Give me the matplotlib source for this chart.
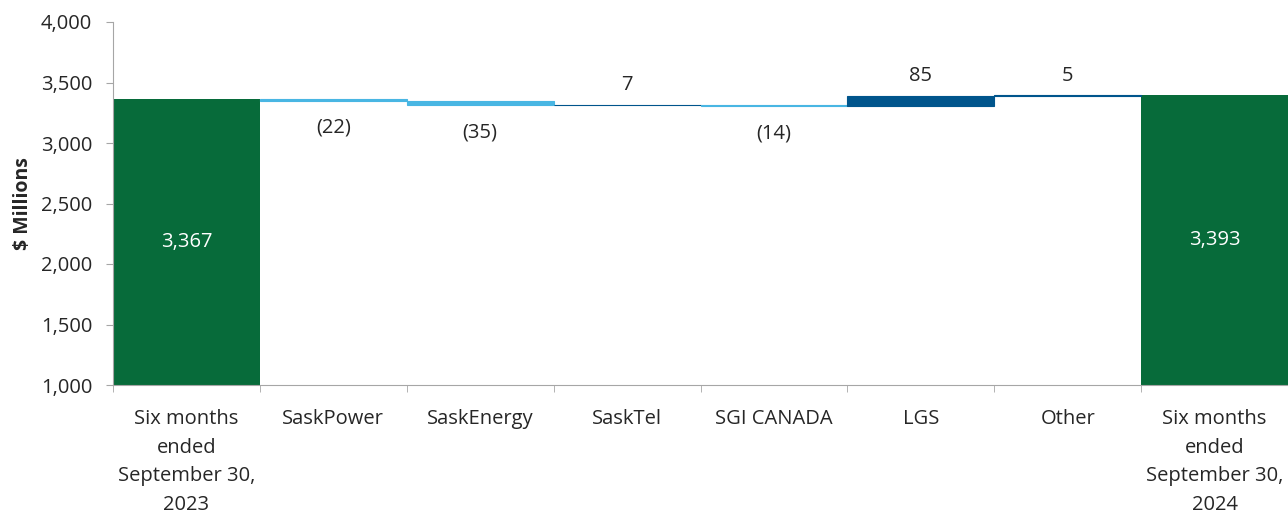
import matplotlib
matplotlib.use('Agg')
import matplotlib.pyplot as plt
import numpy as np

plt.rcParams['font.family'] = ['Open Sans', 'DejaVu Sans']

# Données
categories = ['Six months\nended\nSeptember 30,\n2023', 'SaskPower', 'SaskEnergy', 'SaskTel',
              'SGI CANADA', 'LGS', 'Other', 'Six months\nended\nSeptember 30,\n2024']
start_total = 3367
changes = [-22, -35, 7, -14, 85, 5]
end_total = 3393
change_labels = ['(22)', '(35)', '7', '(14)', '85', '5']

green = '#076B3A'
light_blue = '#49B6E3'
dark_blue = '#00558C'
text_col = '#262626'
fs = 14.5

fig, ax = plt.subplots(figsize=(12.88, 5.14), dpi=100)
fig.subplots_adjust(left=113/1288, right=1.0, top=1-22/514, bottom=1-385/514)

ymin = 1000
x = np.arange(len(categories))

# barres totales
ax.bar(x[0], start_total - ymin, bottom=ymin, width=1.0, color=green)
ax.bar(x[-1], end_total - ymin, bottom=ymin, width=1.0, color=green)
ax.text(x[0], (start_total + ymin) / 2, f'{start_total:,}', color='white',
        ha='center', va='center', fontsize=fs)
ax.text(x[-1], (end_total + ymin) / 2, f'{end_total:,}', color='white',
        ha='center', va='center', fontsize=fs)

# barres de variation
level = start_total
for i, (c, lab) in enumerate(zip(changes, change_labels)):
    xi = x[i + 1]
    col = dark_blue if c > 0 else light_blue
    bottom = level if c > 0 else level + c
    ax.bar(xi, abs(c), bottom=bottom, width=1.0, color=col, edgecolor=col, linewidth=0.8)
    if c > 0:
        ax.annotate(lab, (xi, level + c), xytext=(0, 7), textcoords='offset points',
                    ha='center', va='bottom', fontsize=fs, color=text_col)
    else:
        ax.annotate(lab, (xi, level + c), xytext=(0, -12), textcoords='offset points',
                    ha='center', va='top', fontsize=fs, color=text_col)
    level += c

ax.set_xlim(-0.5, len(categories) - 0.5)
ax.set_ylim(1000, 4000)
ax.set_yticks(np.arange(1000, 4001, 500))
ax.set_yticklabels([f'{v:,}' for v in range(1000, 4001, 500)])
ax.set_xticks(x)
ax.set_xticklabels(categories, linespacing=1.56)
ax.set_xticks(np.arange(-0.5, len(categories) - 0.4, 1.0), minor=True)
ax.tick_params(axis='x', which='major', length=0, pad=17.5, labelsize=fs, labelcolor=text_col)
ax.tick_params(axis='x', which='minor', length=5, color='#A6A6A6')
ax.tick_params(axis='y', length=5, pad=10, color='#A6A6A6', labelsize=fs, labelcolor=text_col)

for s in ['top', 'right']:
    ax.spines[s].set_visible(False)
for s in ['left', 'bottom']:
    ax.spines[s].set_color('#A6A6A6')

ax.set_ylabel('$ Millions', fontsize=14, fontweight='bold', color=text_col)
ax.yaxis.set_label_coords(-80/1175, 0.5)

fig.savefig('out.png', dpi=100)
